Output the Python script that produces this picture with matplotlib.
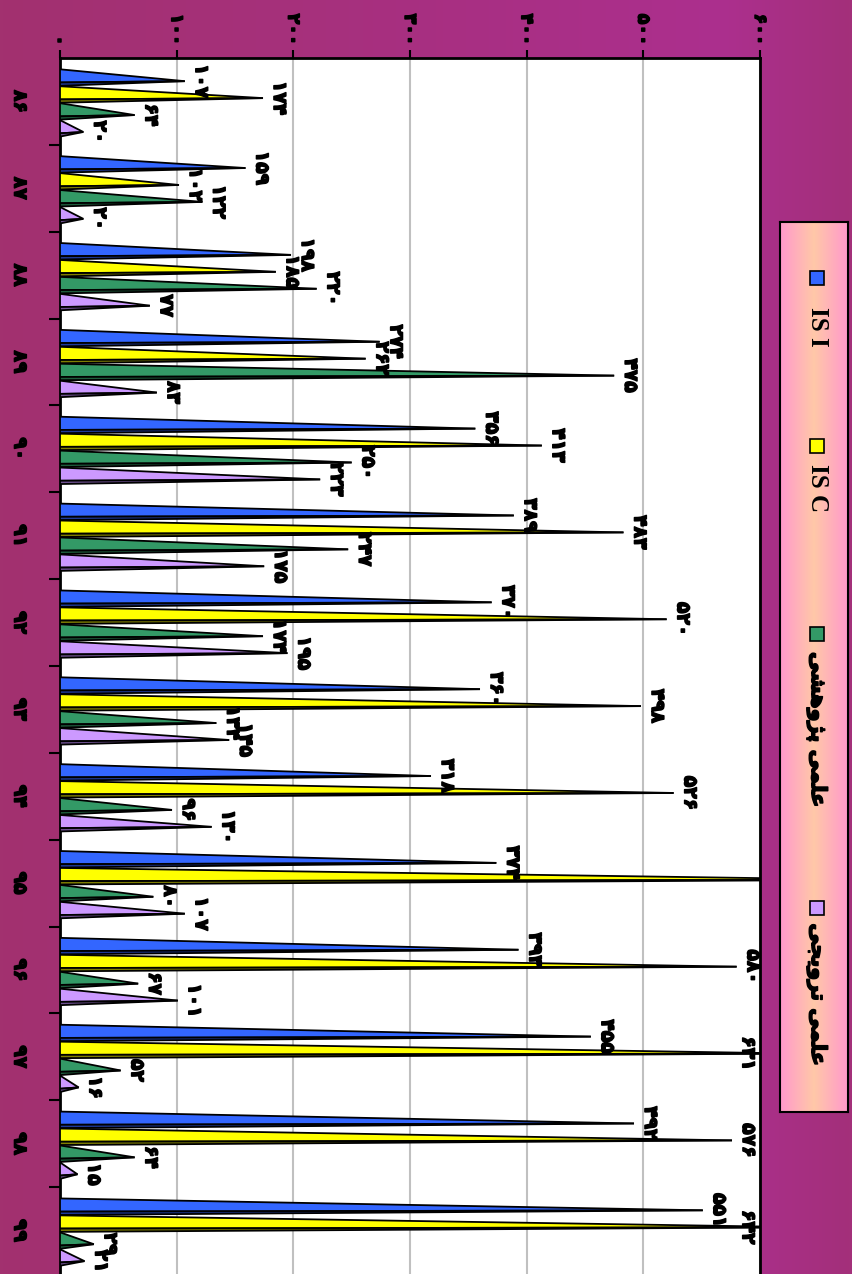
import numpy as np
import matplotlib.pyplot as plt
import matplotlib.patheffects as pe
from matplotlib.colors import LinearSegmentedColormap
from matplotlib.patches import Rectangle

# years 86..99 (Persian digits)
years = ['۸۶', '۸۷', '۸۸', '۸۹', '۹۰', '۹۱', '۹۲', '۹۳', '۹۴', '۹۵', '۹۶', '۹۷', '۹۸', '۹۹']

isi = [107, 159, 198, 274, 356, 389, 370, 360, 318, 374, 393, 455, 492, 551]
isc = [174, 102, 185, 262, 413, 483, 520, 498, 526, 700, 580, 631, 576, 642]
elmi_pajooheshi = [64, 122, 220, 475, 250, 247, 174, 134, 96, 80, 67, 52, 64, 29]
elmi_tarviji = [20, 20, 77, 83, 223, 175, 195, 145, 130, 107, 101, 16, 15, 21]

value_ticks = [0, 100, 200, 300, 400, 500, 600]

# legend names, Persian written in shaped (presentation) forms, visual order
names = ['IS I', 'IS C',
         '\uFEF0\uFEB8\uFEEB\uFEED\uFB8B\uFB58 \uFEF0\uFEE4\uFEE0\uFECB',
         '\uFEF0\uFEA0\uFEF3\uFEED\uFEAE\uFE97 \uFEF0\uFEE4\uFEE0\uFECB']
light = ['#3366FF', '#FFFF00', '#339966', '#CC99FF']
dark = ['#1F3A99', '#7F7F00', '#1E5C3C', '#6E5090']

fa_digits = str.maketrans('0123456789', '۰۱۲۳۴۵۶۷۸۹')
bold = [pe.withStroke(linewidth=1.1, foreground='black')]


def fa(n):
    return str(n).translate(fa_digits)


fig = plt.figure(figsize=(8.52, 12.74), dpi=100)

# background gradient
bg = fig.add_axes([0, 0, 1, 1], zorder=-5)
bg_cmap = LinearSegmentedColormap.from_list('bg', [(0, '#A2316F'), (0.85, '#AC2F8E'), (1, '#A3307A')])
bg.imshow(np.linspace(0, 1, 256).reshape(1, -1), cmap=bg_cmap, aspect='auto', extent=[0, 1, 0, 1])
bg.axis('off')

ax = fig.add_axes([60 / 852, 0, 700 / 852, 1 - 58 / 1274])
ax.set_facecolor('white')

series = [isi, isc, elmi_pajooheshi, elmi_tarviji]
h = 0.19
for i in range(len(years)):
    for j, vals in enumerate(series):
        v = vals[i]
        y0 = i - 0.37 + j * 0.195
        yt = y0 + 0.72 * h
        ym = y0 + 0.8 * h
        ax.fill([0, v, 0], [y0, yt, ym], color=light[j], ec='black', lw=1.3, zorder=3)
        ax.fill([0, v, 0], [ym, yt, y0 + h], color=dark[j], ec='black', lw=1.3, zorder=3)
        if v <= 600:
            ax.annotate(fa(v), (v, yt), xytext=(5, 0), textcoords='offset points',
                        rotation=-90, ha='left', va='center', fontsize=13.5,
                        fontweight='bold', zorder=5, path_effects=bold)
        elif v < 660:
            ax.text(598, yt, fa(v), rotation=-90, ha='right', va='center',
                    fontsize=13.5, fontweight='bold', zorder=5, path_effects=bold)

ax.set_xlim(0, 600)
ax.set_ylim(13.5, -0.5)

ax.xaxis.tick_top()
ax.set_xticks(value_ticks)
ax.set_xticklabels([fa(t) for t in value_ticks], rotation=-90, fontsize=12.5,
                   fontweight='bold', path_effects=bold)
ax.tick_params(axis='x', direction='out', length=6, width=1.5, pad=3)
ax.grid(axis='x', color='#C0C0C0', lw=1.5, zorder=0)

ax.set_yticks(range(len(years)))
ax.set_yticklabels(years, rotation=-90, fontsize=13.5, fontweight='bold', va='center',
                   path_effects=bold)
ax.tick_params(axis='y', length=0, pad=22)
ax.set_yticks(np.arange(0.5, len(years) - 1, 1), minor=True)
ax.tick_params(axis='y', which='minor', direction='out', length=8, width=1.5)

for s in ['top', 'right', 'left']:
    ax.spines[s].set_linewidth(2)
ax.spines['bottom'].set_visible(False)

# legend box
lg = fig.add_axes([780 / 852, 1 - 1112 / 1274, 68 / 852, 890 / 1274])
lg_cmap = LinearSegmentedColormap.from_list('lg', ['#FF99CC', '#FFC8A8', '#FF99CC'])
lg.imshow(np.linspace(0, 1, 256).reshape(1, -1), cmap=lg_cmap, aspect='auto', extent=[0, 1, 0, 1])
lg.set_xlim(0, 1)
lg.set_ylim(0, 1)
lg.set_xticks([])
lg.set_yticks([])
for s in lg.spines.values():
    s.set_linewidth(1.5)

sq_y = [0.937, 0.748, 0.537, 0.229]
txt_y = [0.905, 0.728, 0.517, 0.212]
sw, sh = 14 / 68, 14 / 890
for j in range(4):
    lg.add_patch(Rectangle((0.55 - sw / 2, sq_y[j] - sh / 2), sw, sh, fc=light[j], ec='black', lw=1.2))
    if j < 2:
        lg.text(0.55, txt_y[j], names[j], rotation=-90, ha='center', va='top',
                fontsize=18, fontweight='bold', family='Liberation Serif')
    else:
        lg.text(0.55, txt_y[j], names[j], rotation=-90, ha='center', va='top',
                fontsize=15, fontweight='bold', family='DejaVu Sans', path_effects=bold)

fig.savefig('out.png', dpi=100)
